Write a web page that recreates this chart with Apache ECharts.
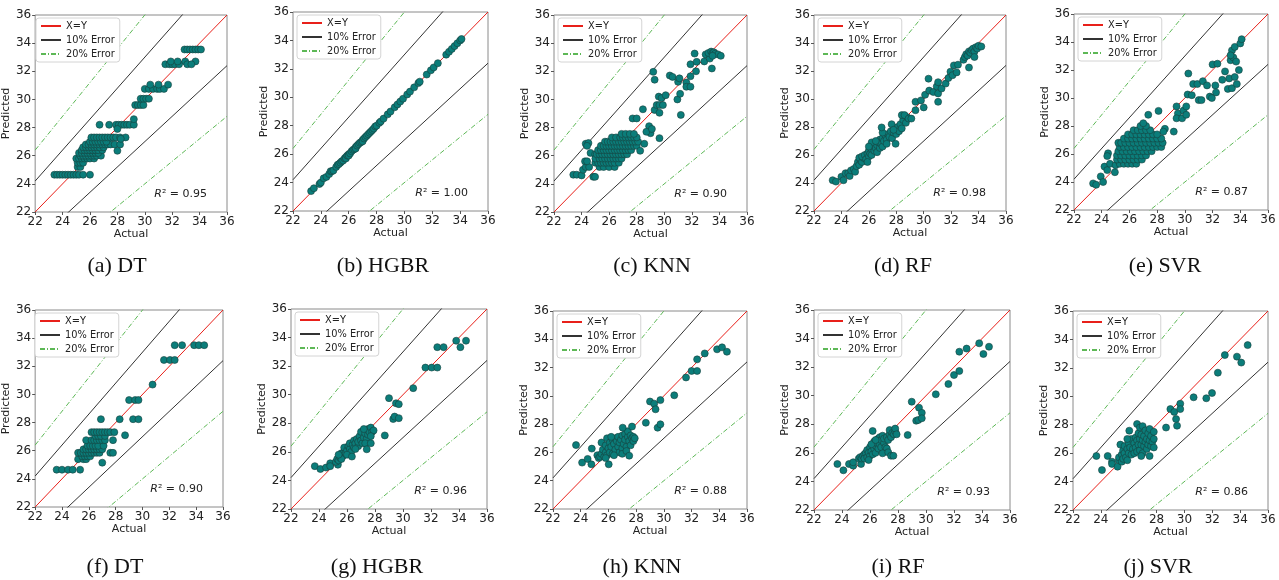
<!DOCTYPE html>
<html>
<head>
<meta charset="utf-8">
<script src="https://cdn.jsdelivr.net/npm/echarts@6/dist/echarts.min.js"></script>
<style>
html,body{margin:0;padding:0;background:#fff;}
#chart{width:1279px;height:580px;}
</style>
</head>
<body>
<div id="chart"></div>
<script>
// ---------- data ----------
const axisTicks = [22, 24, 26, 28, 30, 32, 34, 36];
const captions = ['(a) DT', '(b) HGBR', '(c) KNN', '(d) RF', '(e) SVR',
                  '(f) DT', '(g) HGBR', '(h) KNN', '(i) RF', '(j) SVR'];
const r2Values = ['0.95', '1.00', '0.90', '0.98', '0.87', '0.90', '0.96', '0.88', '0.93', '0.86'];
const refLineNames = ['X=Y', '10% Error', '20% Error'];
const refSlopes = [[1], [1.1, 0.9], [1.2, 0.8]];

const dtTop = [
  [23.4,24.65],[23.6,24.65],[23.8,24.65],[24.0,24.65],[24.2,24.65],[24.4,24.65],[24.6,24.65],[24.8,24.65],[25.0,24.65],[25.2,24.65],[25.5,24.65],[26.0,24.65],
  [25.1,25.2],[25.3,25.2],[25.1,25.5],[25.3,25.5],[25.5,25.5],
  [25.0,25.8],[25.2,25.8],[25.4,25.8],[25.6,25.8],[25.8,25.8],[26.0,25.8],[26.3,25.8],
  [25.3,26.0],[25.5,26.0],[25.7,26.0],[25.9,26.0],[26.1,26.0],[26.3,26.0],[26.5,26.0],[26.8,26.0],
  [25.2,26.2],[25.4,26.2],[25.6,26.2],[25.8,26.2],[26.0,26.2],[26.2,26.2],[26.4,26.2],[26.6,26.2],
  [25.4,26.4],[25.6,26.4],[25.8,26.4],[26.0,26.4],[26.2,26.4],[26.4,26.4],[26.6,26.4],[26.9,26.4],
  [25.5,26.6],[25.7,26.6],[25.9,26.6],[26.1,26.6],[26.3,26.6],[26.5,26.6],[26.7,26.6],[27.0,26.6],
  [25.7,26.8],[25.9,26.8],[26.1,26.8],[26.3,26.8],[26.5,26.8],[26.7,26.8],[26.9,26.8],[27.1,26.8],[27.3,26.8],[27.5,26.8],[27.8,26.8],[28.2,26.8],
  [26.0,27.0],[26.2,27.0],[26.4,27.0],[26.6,27.0],[26.8,27.0],[27.0,27.0],[27.2,27.0],
  [26.1,27.3],[26.3,27.3],[26.5,27.3],[26.7,27.3],[26.9,27.3],[27.1,27.3],[27.3,27.3],[27.5,27.3],[27.7,27.3],[27.9,27.3],[28.2,27.3],[28.6,27.3],
  [26.7,28.2],[27.4,28.2],[27.9,28.2],[28.1,28.2],[28.3,28.2],[28.5,28.2],[28.7,28.2],[28.9,28.2],[29.2,28.2],
  [28.0,26.35],[28.25,27.2],[29.2,28.6],[28.0,27.9],
  [29.3,29.6],[29.5,29.6],[29.7,29.6],[29.9,29.6],
  [29.7,30.05],[29.9,30.05],[30.1,30.05],[30.3,30.05],
  [30.0,30.75],[30.3,30.75],[30.6,30.75],[30.9,30.75],[31.1,30.75],[31.4,30.75],
  [30.4,31.05],[31.0,31.05],[31.7,31.05],
  [31.5,32.5],[31.8,32.5],[32.0,32.5],[32.2,32.5],[32.5,32.5],
  [31.9,32.7],[32.4,32.7],[32.95,32.7],[33.7,32.7],[33.1,32.5],[33.4,32.5],
  [32.9,33.55],[33.1,33.55],[33.3,33.55],[33.5,33.55],[33.7,33.55],[33.9,33.55],[34.1,33.55]
];

const hgbrTop = [
  [23.3,23.4],[23.5,23.6],[23.9,23.9],[24.0,24.0],[24.2,24.3],[24.4,24.4],[24.6,24.6],[24.7,24.8],[24.8,24.8],[24.9,24.85],
  [25.1,25.1],[25.2,25.25],[25.3,25.3],[25.4,25.4],[25.5,25.5],[25.6,25.55],[25.7,25.7],[25.8,25.8],[25.8,25.7],[25.9,25.9],
  [26.0,26.0],[26.0,25.9],[26.1,26.05],[26.2,26.2],[26.3,26.3],[26.4,26.35],[26.5,26.5],[26.5,26.4],[26.6,26.6],[26.7,26.7],
  [26.8,26.8],[26.9,26.85],[27.0,27.0],[27.0,26.9],[27.1,27.1],[27.2,27.2],[27.3,27.3],[27.4,27.4],[27.5,27.5],[27.6,27.6],
  [27.7,27.7],[27.8,27.8],[27.9,27.95],[28.0,28.0],[28.2,28.2],[28.3,28.3],[28.5,28.5],[28.8,28.8],[29.0,29.0],[29.3,29.3],
  [29.5,29.5],[29.7,29.7],[29.9,29.9],[30.2,30.2],[30.4,30.4],[30.7,30.7],[31.0,31.0],[31.1,31.1],[31.6,31.6],[31.9,31.9],
  [32.1,32.1],[32.4,32.4],[33.0,33.0],[33.2,33.2],[33.4,33.4],[33.6,33.6],[33.8,33.8],[34.0,34.0],[34.1,34.1]
];

const knnTop = [
  [23.4,24.65],[23.65,24.65],[24.0,24.6],[24.1,25.0],[24.3,25.2],[24.55,25.2],[24.85,24.5],[24.98,24.5],[24.25,25.6],[24.4,25.6],
  [24.3,26.85],[24.5,26.9],[24.4,26.7],[24.65,26.2],[24.98,26.1],
  [25.3,25.2],[25.6,25.2],[26.0,25.2],[26.4,25.2],
  [25.0,25.5],[25.2,25.5],[25.4,25.5],[25.6,25.5],[25.8,25.5],[26.0,25.5],[26.2,25.5],[26.4,25.5],[26.7,25.5],
  [25.0,25.8],[25.3,25.8],[25.5,25.8],[25.7,25.8],[25.9,25.8],[26.1,25.8],[26.3,25.8],[26.5,25.8],[26.7,25.8],[26.9,25.8],
  [25.1,26.1],[25.3,26.1],[25.5,26.1],[25.7,26.1],[25.9,26.1],[26.1,26.1],[26.3,26.1],[26.5,26.1],[26.7,26.1],[26.9,26.1],[27.1,26.1],[27.3,26.1],
  [25.2,26.4],[25.4,26.4],[25.6,26.4],[25.8,26.4],[26.0,26.4],[26.2,26.4],[26.4,26.4],[26.6,26.4],[26.8,26.4],[27.0,26.4],[27.2,26.4],[27.4,26.4],[27.6,26.4],
  [25.4,26.7],[25.6,26.7],[25.8,26.7],[26.0,26.7],[26.2,26.7],[26.4,26.7],[26.6,26.7],[26.8,26.7],[27.0,26.7],[27.2,26.7],[27.4,26.7],[27.6,26.7],[27.8,26.7],[28.0,26.7],
  [25.7,27.0],[25.9,27.0],[26.1,27.0],[26.3,27.0],[26.5,27.0],[26.7,27.0],[26.9,27.0],[27.1,27.0],[27.3,27.0],[27.5,27.0],[27.7,27.0],[27.9,27.0],[28.1,27.0],
  [26.2,27.3],[26.5,27.3],[26.8,27.3],[27.0,27.3],[27.2,27.3],[27.4,27.3],[27.6,27.3],[27.8,27.3],[28.0,27.3],
  [26.9,27.55],[27.2,27.55],[27.5,27.55],[27.8,27.55],
  [28.25,26.35],[28.55,26.85],[27.7,28.65],[28.0,28.65],[28.45,29.3],[28.9,28.1],[29.0,27.6],[28.7,27.7],[29.1,27.9],[29.65,27.25],
  [29.3,29.25],[29.45,29.6],[29.65,29.6],[29.9,29.6],[29.65,29.05],[29.6,30.2],[29.8,30.1],[30.1,30.3],
  [29.2,31.96],[29.3,31.4],[30.4,31.7],[30.6,31.6],[31.0,31.25],[31.1,31.5],[30.95,30.0],[31.15,30.4],[31.2,28.9],
  [31.6,31.2],[31.6,30.9],[31.9,30.9],[31.9,32.5],[31.9,31.65],[32.2,33.26],[32.3,32.0],[32.35,32.67],
  [32.9,32.7],[33.0,33.2],[33.3,32.9],[33.45,32.2],[33.2,33.3],[33.4,33.4],[33.5,33.3],[33.6,33.35],[33.7,33.25],[33.9,33.2],[34.1,33.1],[33.5,33.1]
];

const rfTop = [
  [23.36,24.2],[23.6,24.1],[24.0,24.45],[24.15,24.2],[24.3,24.7],[24.5,24.7],[24.6,24.5],
  [24.7,24.9],[24.9,25.0],[25.0,24.8],[25.1,25.2],[25.2,25.5],[25.3,25.3],[25.4,25.6],[25.3,25.8],[25.5,25.5],
  [25.6,25.8],[25.5,25.9],[25.7,26.0],[25.8,25.7],[25.9,26.1],[26.0,25.9],[26.0,26.3],[26.1,26.1],[26.2,26.4],[26.2,26.0],
  [26.3,26.6],[26.4,26.3],[26.4,26.8],[26.5,26.5],[26.6,26.2],[26.6,26.7],[26.7,26.9],[26.8,26.5],[26.8,27.1],[26.9,26.8],
  [27.0,27.2],[27.0,26.6],[27.1,27.0],[27.2,27.4],[27.3,27.1],[27.3,26.8],[27.4,27.5],[27.5,27.3],[27.6,27.7],[27.7,27.2],
  [27.8,27.6],[27.9,27.9],[28.0,27.5],[28.1,28.0],[28.2,27.7],[28.3,28.2],[28.4,27.9],[28.5,28.5],[28.7,28.3],[28.8,28.7],
  [26.2,26.9],[25.9,25.5],[26.5,27.0],[27.0,27.6],[26.0,26.6],
  [26.93,27.97],[27.66,28.2],[27.8,27.8],[27.95,26.8],[28.4,28.85],[28.6,28.85],[28.9,28.6],[29.1,28.6],
  [29.4,29.2],[29.4,29.8],[29.8,29.9],[30.0,29.4],[30.1,30.3],[30.4,30.6],[30.35,31.45],[30.7,30.5],[30.95,30.9],
  [31.05,31.2],[31.05,30.4],[31.05,29.8],[31.3,30.75],[31.6,31.1],[31.8,31.5],[31.95,31.95],[32.1,31.7],[32.2,32.4],
  [32.4,31.9],[32.5,32.45],[32.9,32.8],[33.0,33.0],[33.1,33.2],[33.2,33.1],[33.3,33.4],[33.4,33.3],[33.5,33.5],[33.6,33.6],
  [33.7,33.4],[33.8,33.7],[33.9,33.6],[34.0,33.8],[34.2,33.75],[33.3,32.25],[33.7,33.0]
];

const svrTop = [
  [23.38,23.9],[23.6,23.8],[23.93,24.4],[24.1,24.0],[24.2,25.1],[24.4,24.85],[24.46,26.05],[24.4,25.85],[24.6,25.3],[24.95,24.7],[25.0,25.2],[25.2,25.55],
  [25.3,25.3],[25.6,25.3],[25.9,25.3],[26.2,25.3],[26.5,25.3],
  [25.1,25.6],[25.4,25.6],[25.7,25.6],[26.0,25.6],[26.3,25.6],[26.6,25.6],[26.9,25.6],
  [25.1,25.9],[25.4,25.9],[25.7,25.9],[26.0,25.9],[26.3,25.9],[26.6,25.9],[26.9,25.9],[27.2,25.9],
  [25.2,26.2],[25.5,26.2],[25.8,26.2],[26.1,26.2],[26.4,26.2],[26.7,26.2],[27.0,26.2],[27.3,26.2],[27.6,26.2],
  [25.3,26.5],[25.6,26.5],[25.9,26.5],[26.2,26.5],[26.5,26.5],[26.8,26.5],[27.1,26.5],[27.4,26.5],[27.7,26.5],[28.0,26.5],[28.3,26.5],
  [25.2,26.8],[25.4,26.8],[25.7,26.8],[26.0,26.8],[26.3,26.8],[26.6,26.8],[26.9,26.8],[27.2,26.8],[27.5,26.8],[27.8,26.8],[28.1,26.8],[28.4,26.8],
  [25.6,27.1],[25.9,27.1],[26.2,27.1],[26.5,27.1],[26.8,27.1],[27.1,27.1],[27.4,27.1],[27.7,27.1],[28.0,27.1],[28.3,27.1],
  [25.9,27.4],[26.2,27.4],[26.5,27.4],[26.8,27.4],[27.1,27.4],[27.4,27.4],[27.7,27.4],[28.0,27.4],
  [26.3,27.7],[26.6,27.7],[26.9,27.7],[27.2,27.7],[27.5,27.7],[26.8,28.0],[27.2,28.0],
  [27.36,28.8],[28.1,29.08],[27.0,28.2],[28.56,27.8],[28.45,27.6],[29.2,27.6],
  [29.4,29.4],[29.5,28.9],[29.4,28.55],[29.8,28.55],[29.9,29.1],[30.1,29.4],[30.2,30.25],[30.25,31.75],[30.1,28.8],
  [30.5,30.2],[30.6,31.0],[30.9,31.0],[31.0,29.85],[31.2,29.85],[31.3,31.2],[31.6,30.9],[31.8,30.1],[31.95,30.0],
  [32.0,32.4],[32.2,30.9],[32.25,30.4],[32.35,32.45],[32.7,31.3],[32.9,31.9],[33.1,30.65],[33.2,31.4],[33.3,32.7],
  [33.4,33.4],[33.5,32.9],[33.6,33.65],[33.4,30.7],[33.6,31.5],[33.7,32.6],[33.75,31.0],[33.9,32.0],[34.0,33.9],[34.1,34.2],[33.3,33.05]
];

const dtBottom = [
  [23.6,24.65],[24.0,24.65],[24.45,24.65],[24.8,24.65],[25.35,24.65],
  [25.2,25.4],[25.6,25.4],[25.8,25.4],
  [25.5,25.6],[25.7,25.6],[25.9,25.6],[26.1,25.6],
  [25.2,25.85],[25.4,25.85],[25.6,25.85],[25.8,25.85],[26.0,25.85],[26.2,25.85],[26.4,25.85],[26.6,25.85],[26.8,25.85],[27.6,25.85],[27.8,25.85],
  [25.6,26.1],[25.8,26.1],[26.0,26.1],[26.2,26.1],[26.4,26.1],[26.6,26.1],[26.8,26.1],[27.0,26.1],
  [25.9,26.35],[26.1,26.35],[26.3,26.35],[26.5,26.35],[26.7,26.35],[27.1,26.35],
  [25.8,26.75],[26.2,26.75],[26.4,26.75],[26.6,26.75],[26.8,26.75],[27.0,26.75],[27.2,26.75],[27.8,26.75],
  [26.5,27.05],[26.7,27.05],[26.9,27.05],[27.2,27.05],
  [26.2,27.32],[26.4,27.32],[26.6,27.32],[26.8,27.32],[27.0,27.32],[27.2,27.32],[27.4,27.32],[27.6,27.32],[27.9,27.32],
  [27.0,25.15],[26.9,28.24],[28.3,28.24],[28.7,27.1],
  [29.0,29.6],[29.3,28.24],[29.45,29.6],[29.7,28.24],[29.7,29.6],[30.75,30.7],
  [31.6,32.45],[32.05,32.45],[32.4,32.45],[32.4,33.5],[32.95,33.5],[33.85,33.5],[34.2,33.5],[34.6,33.5]
];

const hgbrBottom = [
  [23.7,25.0],[24.1,24.8],[24.5,24.9],[24.8,25.2],[24.8,25.0],[25.35,25.1],
  [25.2,25.3],[25.3,25.5],[25.4,25.4],[25.5,25.6],[25.6,25.9],[25.7,25.7],[25.8,26.0],[25.8,26.3],[25.9,25.9],[26.0,26.1],
  [26.1,26.4],[26.2,26.2],[26.2,26.6],[26.3,26.0],[26.4,26.5],[26.5,26.8],[26.5,26.3],[26.6,26.6],[26.7,26.9],[26.8,26.4],
  [26.8,26.7],[26.9,27.1],[27.0,26.8],[27.0,27.4],[27.1,26.6],[27.2,27.0],[27.3,27.3],[27.4,26.9],[27.5,27.6],[27.5,27.2],
  [27.6,27.4],[27.7,27.7],[27.8,27.4],[27.9,27.5],[27.2,27.6],[25.6,25.5],[26.0,25.8],[26.6,26.2],[27.3,26.6],[27.7,27.1],[25.4,25.8],
  [27.41,26.18],[27.7,26.6],[28.7,27.15],[26.35,25.67],[29.0,29.76],[29.3,28.3],[29.4,28.47],[29.5,29.4],[29.7,29.34],[29.7,28.36],
  [30.73,30.46],[31.6,31.9],[32.05,31.9],[32.45,31.9],[32.45,33.33],[32.9,33.33],[33.8,33.78],[34.1,33.33],[34.5,33.78]
];

const knnBottom = [
  [23.66,26.52],[24.1,25.28],[24.5,25.54],[24.77,25.16],[24.8,26.27],[26.02,25.16],
  [25.2,25.8],[25.3,25.6],[25.4,25.7],[25.5,25.9],[25.5,26.7],[25.6,26.2],[25.7,25.7],[25.8,26.0],[25.8,26.5],[25.9,27.0],
  [25.9,25.8],[26.0,26.3],[26.1,26.7],[26.1,26.0],[26.2,26.4],[26.3,26.9],[26.3,25.9],[26.4,26.6],[26.5,26.2],[26.5,27.0],
  [26.6,26.8],[26.7,26.4],[26.7,27.1],[26.8,26.0],[26.8,26.7],[26.9,26.9],[27.0,26.3],[27.0,27.2],[27.1,26.6],[27.2,27.3],
  [27.2,26.9],[27.3,26.4],[27.4,27.1],[27.4,27.5],[27.5,26.8],[27.6,27.2],[27.6,26.5],[27.7,27.0],[27.8,27.1],[27.8,26.8],
  [27.9,27.0],[27.0,25.9],[26.4,25.8],[25.8,25.6],[26.2,27.1],[27.3,26.1],
  [27.03,27.75],[27.7,27.83],[27.5,25.77],[28.7,28.1],[29.0,29.6],[29.3,29.45],[29.4,29.05],[29.55,27.75],[29.75,27.99],[29.75,29.7],
  [30.75,30.04],[31.6,31.3],[32.0,31.76],[32.4,31.76],[32.4,32.58],[32.95,33.0],[33.84,33.29],[34.2,33.43],[34.55,33.12]
];

const rfBottom = [
  [23.67,25.22],[24.1,24.78],[24.5,25.22],[24.8,25.1],[24.8,25.34],[25.36,25.22],[26.19,27.53],
  [25.2,25.6],[25.3,25.7],[25.4,25.6],[25.5,25.8],[25.6,25.9],[25.6,25.6],[25.7,26.0],[25.8,25.7],[25.8,26.2],[25.9,26.0],
  [26.0,26.4],[26.0,25.8],[26.1,26.1],[26.2,26.6],[26.2,25.9],[26.3,26.3],[26.3,26.8],[26.4,26.5],[26.4,26.0],[26.5,26.9],
  [26.5,26.7],[26.6,26.3],[26.6,27.0],[26.7,26.6],[26.7,27.1],[26.8,26.9],[26.8,26.4],[26.9,27.2],[27.0,26.7],[27.0,27.0],
  [27.1,26.4],[27.2,27.1],[27.3,26.9],[27.4,27.3],[27.4,27.6],[27.5,27.1],[27.6,27.4],[27.7,27.3],[27.8,27.5],[27.8,27.7],
  [27.9,27.3],[26.1,26.6],[25.9,25.5],[26.4,26.9],[27.2,26.3],
  [26.9,25.97],[27.3,26.04],[27.5,25.8],[27.67,25.8],[28.69,27.25],[28.98,29.58],[29.3,28.25],[29.45,28.3],[29.5,29.16],
  [29.7,28.8],[29.7,28.42],[30.7,30.1],[31.6,30.82],[32.0,31.45],[32.38,31.73],[32.38,33.08],[32.9,33.3],[33.8,33.67],[34.1,32.92],[34.5,33.43]
];

const svrBottom = [
  [23.68,25.8],[24.08,24.81],[24.49,25.8],[24.8,25.4],[24.8,25.24],[25.2,25.05],[26.04,27.58],[26.6,28.05],
  [25.3,25.5],[25.3,25.7],[25.4,26.6],[25.5,25.4],[25.5,25.9],[25.6,25.6],[25.6,26.2],[25.7,26.0],[25.7,26.5],[25.8,25.7],
  [25.9,26.3],[25.9,25.5],[26.0,26.0],[26.0,26.7],[26.1,26.4],[26.2,25.9],[26.2,27.0],[26.3,26.3],[26.4,26.7],[26.4,26.0],
  [26.5,27.1],[26.5,26.4],[26.6,26.9],[26.6,26.1],[26.7,27.4],[26.7,26.6],[26.8,27.8],[26.8,26.2],[26.8,27.0],[26.9,26.6],
  [26.9,27.3],[27.0,27.9],[27.0,26.9],[27.0,26.0],[27.1,27.2],[27.1,26.5],[27.2,27.6],[27.2,26.8],[27.3,27.0],[27.3,26.3],
  [27.4,27.4],[27.4,26.6],[27.5,27.7],[27.5,26.9],[27.6,27.2],[27.6,26.5],[27.7,26.8],[27.8,27.0],[27.8,26.4],[27.8,27.5],
  [27.5,25.8],[26.9,25.8],[25.9,27.0],
  [28.68,27.8],[28.99,29.1],[29.27,28.9],[29.4,28.4],[29.47,27.93],[29.7,29.48],[29.7,29.1],[30.66,29.93],[31.57,29.86],
  [31.98,30.23],[32.4,31.66],[32.9,32.9],[33.77,32.79],[34.08,32.37],[34.54,33.6]
];

const panelData = [dtTop, hgbrTop, knnTop, rfTop, svrTop, dtBottom, hgbrBottom, knnBottom, rfBottom, svrBottom];

// ---------- layout (pixel boxes of each plot area) ----------
const layout = [
  {l:32,  t:15,  w:195, h:197, cx:117,  cy:266},
  {l:293, t:12,  w:195, h:199, cx:383,  cy:266},
  {l:554, t:15,  w:193, h:197, cx:652,  cy:266},
  {l:814, t:15,  w:192, h:196, cx:903,  cy:266},
  {l:1074,t:14,  w:194, h:196, cx:1165, cy:266},
  {l:31,  t:310, w:192, h:197, cx:115,  cy:567},
  {l:291, t:309, w:196, h:200, cx:377,  cy:567},
  {l:553, t:311, w:194, h:198, cx:642,  cy:567},
  {l:814, t:310, w:196, h:200, cx:898,  cy:567},
  {l:1073,t:311, w:195, h:199, cx:1158, cy:567}
];

const lineColors = {'X=Y':'#e8201a', '10% Error':'#333333', '20% Error':'#5db856'};
const SANS = 'DejaVu Sans';

const grids = [], xAxes = [], yAxes = [], series = [], legends = [], graphics = [];
const amin = axisTicks[0], amax = axisTicks[axisTicks.length - 1];
const step = axisTicks[1] - axisTicks[0];

layout.forEach((b, i) => {
  grids.push({left:b.l, top:b.t, width:b.w, height:b.h, show:true, borderColor:'#8a8a8a', borderWidth:1, backgroundColor:'transparent'});
  const axCommon = {
    gridIndex:i, type:'value', min:amin, max:amax, interval:step,
    axisLine:{show:false}, splitLine:{show:false},
    axisTick:{show:true, length:3, lineStyle:{color:'#555', width:1}},
    axisLabel:{fontFamily:SANS, fontSize:12, color:'#222', margin:4},
    nameLocation:'middle',
    nameTextStyle:{fontFamily:SANS, fontSize:11, color:'#222'}
  };
  xAxes.push(Object.assign({}, axCommon, {name:'Actual', nameGap:10}));
  yAxes.push(Object.assign({}, axCommon, {name:'Predicted', nameGap:16}));

  refLineNames.forEach((nm, k) => {
    refSlopes[k].forEach(s => {
      series.push({
        type:'line', name:nm, xAxisIndex:i, yAxisIndex:i,
        data:[[amin, amin * s], [amax, amax * s]],
        symbol:'none', silent:true, clip:true, z:1,
        lineStyle:{color:lineColors[nm], width:1, type: nm === '20% Error' ? [5, 2, 1, 2] : 'solid'},
        itemStyle:{color:lineColors[nm], opacity:0}
      });
    });
  });
  series.push({
    type:'scatter', name:'pts' + i, xAxisIndex:i, yAxisIndex:i, data:panelData[i],
    symbolSize:7, z:3,
    itemStyle:{color:'#0b7d7a', borderColor:'#173f3d', borderWidth:0.6, opacity:1}
  });

  legends.push({
    data:refLineNames, orient:'vertical', left:b.l + 4, top:b.t + 3,
    backgroundColor:'#ffffff', borderColor:'#d4d4d4', borderWidth:1, borderRadius:3,
    padding:[3, 5, 3, 4], itemWidth:20, itemHeight:9, itemGap:4,
    selectedMode:false,
    itemStyle:{opacity:0},
    textStyle:{fontFamily:SANS, fontSize:9.8, color:'#222', lineHeight:10}
  });

  graphics.push({
    type:'text', x:b.l + b.w - 20, y:b.t + b.h - 18, z:10,
    style:{
      text:'{i|R}{n|² = ' + r2Values[i] + '}', align:'right', verticalAlign:'middle',
      rich:{
        i:{fontFamily:SANS, fontSize:11, fontStyle:'italic', fill:'#222'},
        n:{fontFamily:SANS, fontSize:11, fill:'#222'}
      }
    }
  });
  graphics.push({
    type:'text', x:b.cx, y:b.cy, z:10,
    style:{text:captions[i], align:'center', verticalAlign:'middle',
           font:'22px "Liberation Serif"', fill:'#111'}
  });
});

const chart = echarts.init(document.getElementById('chart'), null, {renderer:'canvas'});
chart.setOption({
  animation:false,
  backgroundColor:'#ffffff',
  grid:grids, xAxis:xAxes, yAxis:yAxes, series:series,
  legend:legends, graphic:graphics
});
</script>
</body>
</html>
